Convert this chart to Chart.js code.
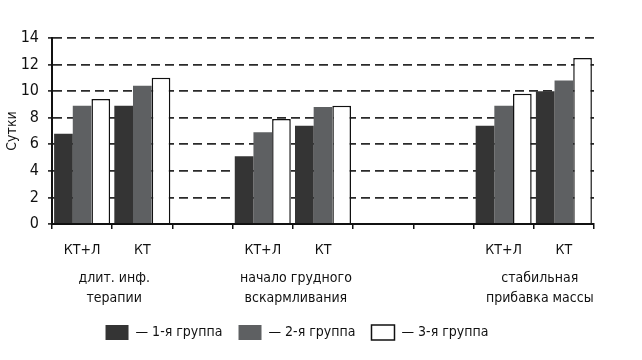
<!DOCTYPE html>
<html>
<head>
<meta charset="utf-8">
<script src="https://cdn.jsdelivr.net/npm/chart.js@4.4.0/dist/chart.umd.min.js"></script>
<style>
  html, body { margin: 0; padding: 0; background: #fff; }
</style>
</head>
<body>
<canvas id="chart" width="642" height="360"></canvas>
<script>
// данные диаграммы
const categories = ['КТ+Л', 'КТ', '', 'КТ+Л', 'КТ', '', '', 'КТ+Л', 'КТ'];
const groupLabels = [
  ['длит. инф.', 'терапии'],
  ['начало грудного', 'вскармливания'],
  ['стабильная', 'прибавка массы']
];
const groupSpans = [[0, 1], [3, 4], [7, 8]];
const seriesNames = ['1-я группа', '2-я группа', '3-я группа'];
const group1 = [6.8, 8.9, null, 5.1, 7.4, null, null, 7.4, 10.0];
const group2 = [8.9, 10.4, null, 6.9, 8.8, null, null, 8.9, 10.8];
const group3 = [9.4, 11.0, null, 7.9, 8.9, null, null, 9.8, 12.5];
const yTicks = [0, 2, 4, 6, 8, 10, 12, 14];
const yTitle = 'Сутки';

// оформление
const FONT = '"Liberation Sans Narrow", "DejaVu Sans Condensed", "Roboto", sans-serif';
const TEXT = '#111';
const groupShift = [2, 3, 6]; // сдвиг подписей групп вправо, px

Chart.defaults.font.family = FONT;
Chart.defaults.font.size = 14;
Chart.defaults.color = TEXT;

/**
 * Рисует подписи групп под осью X
 */
const groupLabelPlugin = {
  id: 'groupLabels',
  afterDraw(chart) {
    const { ctx, scales: { x } } = chart;
    ctx.save();
    ctx.font = '14px ' + FONT;
    ctx.fillStyle = TEXT;
    ctx.textAlign = 'center';
    ctx.textBaseline = 'middle';
    groupLabels.forEach((lines, i) => {
      const [a, b] = groupSpans[i];
      const cx = (x.getPixelForValue(a) + x.getPixelForValue(b)) / 2 + groupShift[i];
      lines.forEach((t, j) => ctx.fillText(t, cx, x.top + 54 + j * 20));
    });
    ctx.restore();
  }
};

new Chart(document.getElementById('chart').getContext('2d'), {
  type: 'bar',
  data: {
    labels: categories,
    datasets: [
      { label: seriesNames[0], data: group1, backgroundColor: '#343434', borderWidth: 0 },
      { label: seriesNames[1], data: group2, backgroundColor: '#5e6062', borderWidth: 0 },
      { label: seriesNames[2], data: group3, backgroundColor: '#ffffff', borderColor: '#111111', borderWidth: 1.5 }
    ]
  },
  options: {
    responsive: false,
    animation: false,
    barPercentage: 1,
    categoryPercentage: 0.93,
    layout: { padding: { left: 0, right: 48, top: 38, bottom: 10 } },
    plugins: {
      tooltip: { enabled: false },
      legend: {
        position: 'bottom',
        labels: {
          boxWidth: 23,
          boxHeight: 15,
          padding: 16,
          color: TEXT,
          font: { size: 14 },
          generateLabels(chart) {
            const items = Chart.defaults.plugins.legend.labels.generateLabels(chart);
            items.forEach(it => { it.text = '— ' + it.text; });
            return items;
          }
        }
      }
    },
    scales: {
      x: {
        afterFit(scale) { scale.height = 85; },
        grid: { drawOnChartArea: false, drawTicks: true, tickLength: 5, color: '#111', lineWidth: 1.5 },
        border: { color: '#111', width: 2 },
        ticks: { padding: 13, color: TEXT, font: { size: 14 }, maxRotation: 0, autoSkip: false }
      },
      y: {
        min: 0,
        max: 14,
        afterFit(scale) { scale.width = 52; },
        afterBuildTicks(scale) { scale.ticks = yTicks.map(v => ({ value: v })); },
        title: { display: true, text: yTitle, color: TEXT, font: { size: 14 } },
        grid: {
          color: c => (c.tick && c.tick.value === 0 ? 'transparent' : '#2a2a2a'),
          lineWidth: 1.8,
          tickLength: 4,
          tickColor: '#111',
          tickWidth: 1.5,
          tickBorderDash: []
        },
        border: { color: '#111', width: 2, dash: [9, 5] },
        ticks: { padding: 9, color: TEXT, font: { size: 16 } }
      }
    }
  },
  plugins: [groupLabelPlugin]
});
</script>
</body>
</html>
